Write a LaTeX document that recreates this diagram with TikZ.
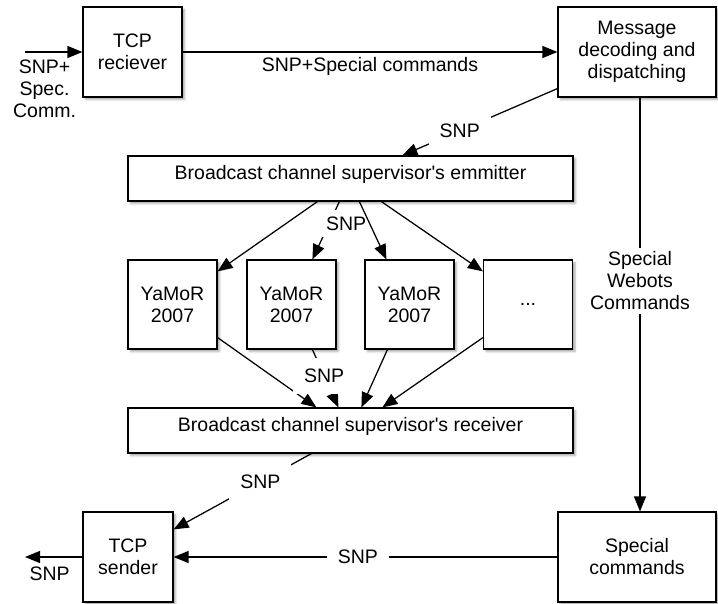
\documentclass[tikz,border=0pt]{standalone}
\usepackage{fontspec}
\setmainfont{Liberation Sans}
\usetikzlibrary{arrows.meta,calc,shadows.blur}
\begin{document}
\begin{tikzpicture}[x=1pt,y=-1pt,
  every node/.style={font=\fontsize{19.5pt}{22pt}\selectfont},
  box/.style={draw, line width=1.2pt, fill=white, align=center, inner sep=0pt,
    blur shadow={shadow xshift=2.5pt, shadow yshift=-2.5pt, shadow blur radius=2pt, shadow opacity=35}},
  widebox/.style={box, minimum width=445pt, minimum height=45pt, text height=14pt, text depth=12pt},
  robot/.style={box, minimum width=89pt, minimum height=89pt},
  conn/.style={line width=1.25pt, -{Triangle[length=15pt,width=12pt]}},
  lbl/.style={fill=white, align=center, inner xsep=11pt, inner ysep=11pt},
]
\useasboundingbox (0,0) rectangle (718,603);

\node[box, minimum width=99pt, minimum height=90pt] (tcpr) at (132.5,52) {TCP\\reciever};
\node[box, minimum width=158pt, minimum height=90pt] (msg) at (637,52) {Message\\decoding and\\dispatching};
\node[widebox] (emit) at (350.5,178.5) {Broadcast channel supervisor\textquotesingle s emmitter};
\node[robot] (y1) at (172.5,304.5) {YaMoR\\2007};
\node[robot] (y2) at (291.5,304.5) {YaMoR\\2007};
\node[robot] (y3) at (409.5,304.5) {YaMoR\\2007};
\node[robot] (y4) at (528,304.5) {...};
\node[widebox] (recv) at (350.5,430.5) {Broadcast channel supervisor\textquotesingle s receiver};
\node[box, minimum width=90pt, minimum height=90pt] (tcps) at (128,557) {TCP\\sender};
\node[box, minimum width=158pt, minimum height=90pt] (spec) at (637,557) {Special\\commands};

\coordinate (in) at (25,52);
\coordinate (out) at (25,557);

\draw[conn] (in) -- node[below, pos=0.34, align=center, inner sep=7pt]{SNP+\\Spec.\\Comm.} (tcpr.west);
\draw[conn] (tcpr.east) -- node[below, inner sep=5pt]{SNP+Special commands} (msg.west);
\draw[conn] ($(msg.south west)+(0,-9)$) -- node[lbl, pos=0.63]{SNP} ($(emit.north west)+(275,0)$);

\draw[conn] ($(emit.south west)+(190,0)$) -- ($(y1.north east)+(0,12)$);
\draw[conn] ($(emit.south west)+(212,0)$) -- node[lbl, pos=0.38, xshift=17pt, inner ysep=7pt]{SNP} ($(y2.north west)+(66,0)$);
\draw[conn] ($(emit.south west)+(232,0)$) -- ($(y3.north west)+(22,0)$);
\draw[conn] ($(emit.south west)+(254,0)$) -- ($(y4.north west)+(0,12)$);

\draw[conn] ($(y1.south east)+(0,-12)$) -- ($(recv.north west)+(189,0)$);
\draw[conn] ($(y2.south west)+(66,0)$) -- node[lbl, pos=0.45]{SNP} ($(recv.north west)+(211,0)$);
\draw[conn] ($(y3.south west)+(23,0)$) -- ($(recv.north west)+(234,0)$);
\draw[conn] ($(y4.south west)+(0,-12)$) -- ($(recv.north west)+(255,0)$);

\draw[conn] ($(recv.south west)+(184,0)$) -- node[lbl, pos=0.37]{SNP} ($(tcps.north east)+(0,18)$);
\draw[conn] ($(msg.south)+(3,0)$) -- node[lbl, pos=0.443, inner xsep=3pt, inner ysep=4pt]{Special\\Webots\\Commands} ($(spec.north)+(3,0)$);
\draw[conn] (spec.west) -- node[lbl, pos=0.52]{SNP} (tcps.east);
\draw[conn] (tcps.west) -- node[below, pos=0.57, inner sep=9pt]{SNP} (out);
\end{tikzpicture}
\end{document}
